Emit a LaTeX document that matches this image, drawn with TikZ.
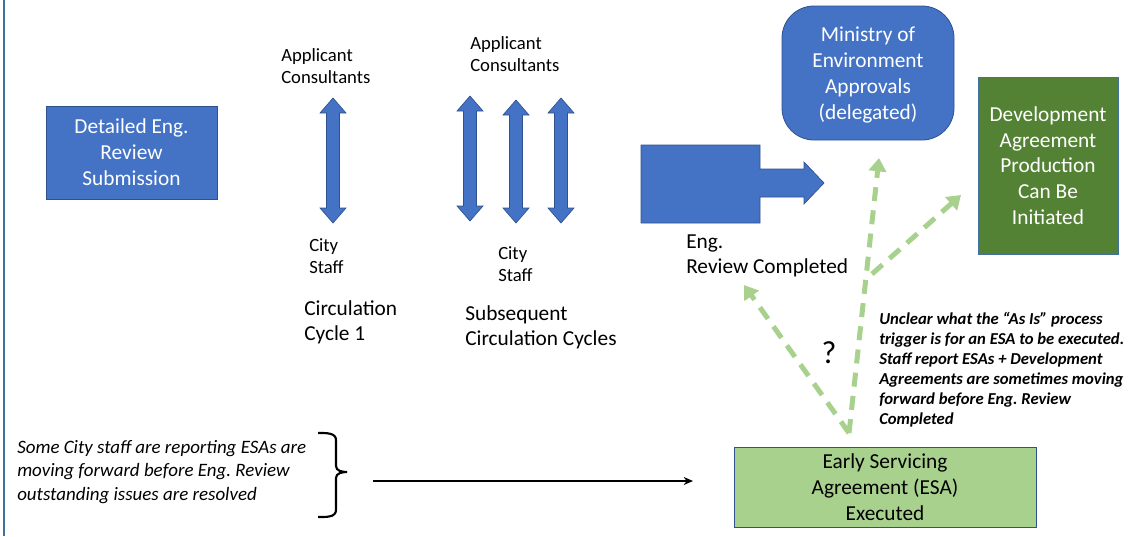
\documentclass[tikz,border=0pt]{standalone}
\usepackage{fontspec}
\setmainfont{Carlito}
\usetikzlibrary{arrows.meta,calc}
\frenchspacing
\definecolor{bluefill}{HTML}{4472C4}
\definecolor{blueedge}{HTML}{2F528F}
\definecolor{dkgreen}{HTML}{548235}
\definecolor{ltgreen}{HTML}{A9D18E}
\definecolor{framecol}{HTML}{41719C}
\newcommand\dblarr[3]{%
  \filldraw[bluefill,draw=blueedge,line width=0.5pt]
   (#1,#2) -- ({#1+13},{#2+15}) -- ({#1+6.5},{#2+15}) -- ({#1+6.5},{#3-15}) -- ({#1+13},{#3-15})
   -- (#1,#3) -- ({#1-13},{#3-15}) -- ({#1-6.5},{#3-15}) -- ({#1-6.5},{#2+15}) -- ({#1-13},{#2+15}) -- cycle;}
\begin{document}
\begin{tikzpicture}[x=0.75pt,y=-0.75pt,
  box/.style={draw=blueedge, line width=0.6pt, text=white, align=center, inner sep=0pt,
    font=\fontsize{16}{19.3}\selectfont},
  lbl/.style={align=left, anchor=west, inner sep=0pt, font=\fontsize{14}{16.5}\selectfont},
  lblb/.style={align=left, anchor=west, inner sep=0pt, font=\fontsize{16}{18.5}\selectfont},
  dasharr/.style={ltgreen, line width=3.75pt, dash pattern=on 10.5pt off 7pt,
    -{Triangle[width=13pt,length=10pt]}}]
\useasboundingbox (0,0) rectangle (1134,536);
\draw[framecol, line width=2pt] (4,0) -- (4,536);

% boxes
\node[box, fill=bluefill, minimum width={171*0.75pt}, minimum height={93*0.75pt},
  font=\fontsize{16}{19.5}\selectfont] (det) at (131.5,152.5) {Detailed Eng.\\Review\\Submission};
\node[box, fill=bluefill, rounded corners=24pt, minimum width={172*0.75pt}, minimum height={134*0.75pt}]
  (moe) at (868,73) {};
\node[align=center, inner sep=0pt, text=white, font=\fontsize{16}{19.3}\selectfont]
  (moet) at (868,75) {Ministry of\\Environment\\Approvals\\(delegated)};
\node[box, fill=dkgreen, draw=framecol, minimum width={140*0.75pt}, minimum height={177*0.75pt}]
  (dev) at (1048,165.5) {Development\\Agreement\\Production\\Can Be\\Initiated};
\node[box, fill=ltgreen, text=black, minimum width={302*0.75pt}, minimum height={80*0.75pt}]
  (esa) at (885,487) {Early Servicing\\Agreement (ESA)\\Executed};

% double arrows
\dblarr{333}{98}{223}
\dblarr{470}{96}{221}
\dblarr{516}{100}{223}
\dblarr{561}{98}{223}

% block arrow
\filldraw[bluefill, draw=blueedge, line width=0.5pt]
  (641,145) -- (760,145) -- (760,169) -- (804,169) -- (804,162) -- (824,183)
  -- (804,204) -- (804,197) -- (760,197) -- (760,223) -- (641,223) -- cycle;

% labels
\node[lbl] (app1) at (281,66) {Applicant\\Consultants};
\node[lbl] (app2) at (470,54) {Applicant\\Consultants};
\node[lbl] (city1) at (309,256) {City\\Staff};
\node[lbl] (city2) at (498,264) {City\\Staff};
\node[lblb, font=\fontsize{16}{19}\selectfont] (circ1) at (304,322) {Circulation\\Cycle 1};
\node[lblb, font=\fontsize{16}{19}\selectfont] (circ2) at (465,327) {Subsequent\\Circulation Cycles};
\node[lblb] (eng) at (686,256) {Eng.\\Review Completed};
\node[inner sep=0pt, font=\fontsize{24}{28}\selectfont] (q) at (829,353) {?};
\node[lbl, font=\fontsize{12.5}{15}\bfseries\itshape\selectfont] (note) at (879,370)
  {Unclear what the “As Is” process\\trigger is for an ESA to be executed.\\Staff report ESAs + Development\\Agreements are sometimes moving\\forward before Eng. Review\\Completed};
\node[lbl, font=\fontsize{14.2}{17.6}\itshape\selectfont] (lnote) at (17,472)
  {Some City staff are reporting ESAs are\\moving forward before Eng. Review\\outstanding issues are resolved};

% green dashed arrows
\coordinate (src) at (849,433);
\coordinate (engtip) at (744,285);
\coordinate (moetip) at (879,158);
\coordinate (branch) at (872,274);
\coordinate (devtip) at (961,195);
\draw[dasharr] (src) -- (engtip);
\draw[dasharr] (src) -- (moetip);
\draw[dasharr] (branch) -- (devtip);

% brace and arrow
\draw[line width=1.6pt] (318,433) to[out=0,in=90] (336,440) -- (336,466)
  to[out=-90,in=180] (347,472) to[out=180,in=90] (336,478) -- (336,510)
  to[out=-90,in=0] (318,517);
\coordinate (la) at (373,481);
\coordinate (lb) at (693,481);
\draw[line width=1pt, -{Stealth[length=7pt,width=6pt]}] (la) -- (lb);
\end{tikzpicture}
\end{document}
